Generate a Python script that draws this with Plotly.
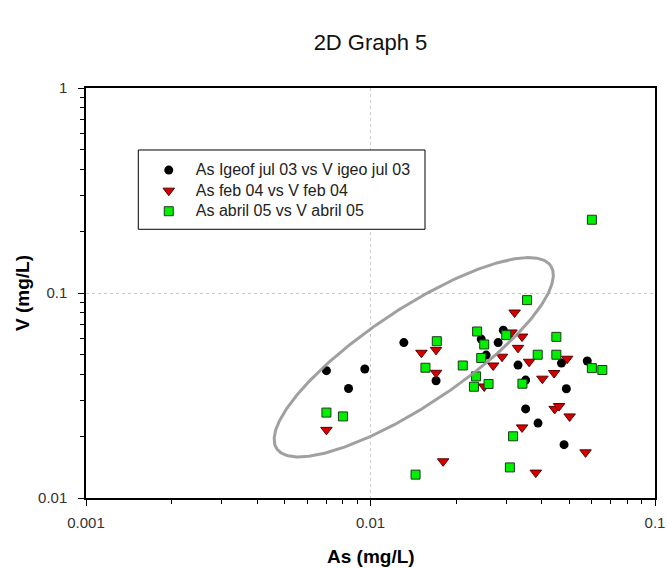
import numpy as np
import plotly.graph_objects as go

# ---- data ----
as_jul03 = [0.0070, 0.00955, 0.00837, 0.0131, 0.0170, 0.0293, 0.0245, 0.0281, 0.0255,
            0.0330, 0.0351, 0.0469, 0.0578, 0.0488, 0.0351, 0.0388, 0.0479]
v_jul03 = [0.0418, 0.0426, 0.0342, 0.0573, 0.0373, 0.0659, 0.0596, 0.0573, 0.0498,
           0.0445, 0.0376, 0.0455, 0.0466, 0.0341, 0.0272, 0.0232, 0.0182]

as_feb04 = [0.0070, 0.0151, 0.0170, 0.0170, 0.0180, 0.0321, 0.0313, 0.0341, 0.0330, 0.0290,
            0.0270, 0.0251, 0.0361, 0.0491, 0.0442, 0.0402, 0.0444, 0.0460, 0.0501, 0.0341,
            0.0570, 0.0381]
v_feb04 = [0.0215, 0.0511, 0.0528, 0.0408, 0.0151, 0.0803, 0.0642, 0.0613, 0.0540, 0.0489,
           0.0443, 0.0350, 0.0462, 0.0478, 0.0407, 0.0382, 0.0272, 0.0281, 0.0250, 0.0221,
           0.0167, 0.0133]

as_abr05 = [0.0070, 0.0080, 0.0171, 0.0156, 0.0144, 0.0600, 0.0355, 0.0237, 0.0251, 0.0300,
            0.0450, 0.0245, 0.0387, 0.0450, 0.0211, 0.0235, 0.0231, 0.0260, 0.0342, 0.0600,
            0.0653, 0.0317, 0.0309]
v_abr05 = [0.0261, 0.0250, 0.0582, 0.0432, 0.0130, 0.2277, 0.0923, 0.0649, 0.0561, 0.0623,
           0.0611, 0.0482, 0.0500, 0.0500, 0.0443, 0.0392, 0.0349, 0.0360, 0.0361, 0.0430,
           0.0421, 0.0200, 0.0141]

names = ["As Igeof jul 03 vs V igeo jul 03", "As feb 04 vs V feb 04", "As abril 05 vs V abril 05"]

x_tickvals = [0.001, 0.01, 0.1]
x_ticktext = ["0.001", "0.01", "0.1"]
y_tickvals = [0.01, 0.1, 1]
y_ticktext = ["0.01", "0.1", "1"]
x_minor = [m * d for d in (0.001, 0.01) for m in range(2, 10)]
y_minor = [m * d for d in (0.01, 0.1) for m in range(2, 10)]

# ellipse (in log10 data units): centre and two conjugate semi-axis vectors
ell_center = (-1.848, -1.3135)
ell_u = (0.4816, 0.4458)
ell_v = (0.0936, -0.1942)

t = np.linspace(0, 2 * np.pi, 400)
ell_x = 10 ** (ell_center[0] + ell_u[0] * np.cos(t) + ell_v[0] * np.sin(t))
ell_y = 10 ** (ell_center[1] + ell_u[1] * np.cos(t) + ell_v[1] * np.sin(t))


def legend_label(s):
    return '<span style="font-size:16px">' + s + '</span>'


fig = go.Figure()
fig.add_trace(go.Scatter(x=as_jul03, y=v_jul03, mode="markers", name=legend_label(names[0]),
                         legendgroup="a",
                         marker=dict(symbol="circle", size=9, color="black")))
fig.add_trace(go.Scatter(x=as_feb04, y=v_feb04, mode="markers", name=legend_label(names[1]),
                         legendgroup="b",
                         marker=dict(symbol="triangle-down", size=10, color="#d40000",
                                     line=dict(color="#5a0000", width=1))))
fig.add_trace(go.Scatter(x=as_abr05, y=v_abr05, mode="markers", name=legend_label(names[2]),
                         legendgroup="c",
                         marker=dict(symbol="square", size=9, color="#00f000",
                                     line=dict(color="#1a3a1a", width=1))))
fig.add_trace(go.Scatter(x=ell_x, y=ell_y, mode="lines", showlegend=False, hoverinfo="skip",
                         line=dict(color="rgba(150,150,150,0.9)", width=3)))

font_family = "Liberation Sans, Arial, sans-serif"
axis_common = dict(
    type="log", showline=True, linecolor="black", linewidth=1.5, mirror=True,
    ticks="outside", ticklen=6, tickwidth=1, tickcolor="black",
    showgrid=True, gridcolor="#c8c8c8", griddash="dot", gridwidth=1,
    zeroline=False, automargin=False,
    tickfont=dict(family=font_family, size=15, color="#333333"),
)

fig.update_xaxes(range=[-3, -1], tickmode="array", tickvals=x_tickvals, ticktext=x_ticktext,
                 ticklabelstandoff=4,
                 minor=dict(tickmode="array", tickvals=x_minor, ticks="outside", ticklen=4,
                            tickcolor="black", showgrid=False),
                 **axis_common)
fig.update_yaxes(range=[-2, 0], tickmode="array", tickvals=y_tickvals, ticktext=y_ticktext,
                 ticklabelstandoff=8,
                 minor=dict(tickmode="array", tickvals=y_minor, ticks="outside", ticklen=4,
                            tickcolor="black", showgrid=False),
                 **axis_common)

fig.update_layout(
    width=666, height=568,
    margin=dict(l=86, r=11, t=88, b=70, autoexpand=False),
    paper_bgcolor="white", plot_bgcolor="white",
    title=dict(text="2D Graph 5", x=0.5, xref="paper", y=1 - 42 / 568, yanchor="middle",
               font=dict(family=font_family, size=22, color="#111111")),
    legend=dict(x=0.098, y=0.837, xanchor="left", yanchor="top", bgcolor="rgba(0,0,0,0)",
                borderwidth=0, itemwidth=44, tracegroupgap=0,
                font=dict(family=font_family, size=13.5, color="#222222")),
    shapes=[dict(type="rect", xref="paper", yref="paper", x0=0.0919, x1=0.5958,
                 y0=0.6554, y1=0.8488, line=dict(color="black", width=1),
                 fillcolor="white", layer="above")],
    annotations=[
        dict(text="<b>As (mg/L)</b>", xref="paper", yref="paper", x=0.5, y=-(556.7 - 498) / 410,
             xanchor="center", yanchor="middle", showarrow=False,
             font=dict(family=font_family, size=19, color="black")),
        dict(text="<b>V (mg/L)</b>", xref="paper", yref="paper", x=-(86 - 22) / 569, y=0.5,
             xanchor="center", yanchor="middle", showarrow=False, textangle=-90,
             font=dict(family=font_family, size=19, color="black")),
    ],
    showlegend=True,
)

fig.write_html("out.html", config={"displayModeBar": False},
               post_script="document.body.style.margin='0';document.body.style.padding='0';")
